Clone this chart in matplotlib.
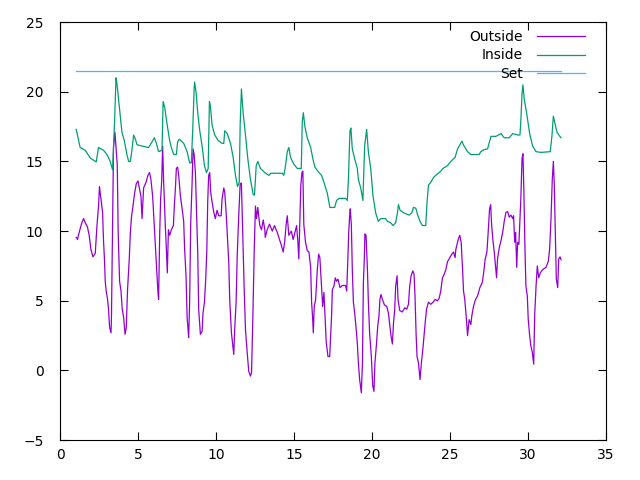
import matplotlib
matplotlib.use("Agg")
import matplotlib.pyplot as plt

# temperature log
inside_x = [1.03, 1.28, 1.61, 1.93, 2.31, 2.46, 2.78, 3.00, 3.21, 3.36, 3.49, 3.58, 3.64, 3.74, 3.85, 3.96,
            4.11, 4.28, 4.39, 4.50, 4.60, 4.71, 4.82, 4.93, 5.25, 5.67, 5.89, 6.04, 6.17, 6.31, 6.53, 6.60,
            6.70, 6.85, 7.02, 7.13, 7.28, 7.45, 7.53, 7.64, 7.92, 8.14, 8.30, 8.41, 8.50, 8.59, 8.62, 8.71,
            8.82, 8.95, 9.10, 9.25, 9.38, 9.49, 9.57, 9.63, 9.74, 9.91, 10.13, 10.38, 10.49, 10.55, 10.71,
            10.92, 11.09, 11.24, 11.37, 11.48, 11.54, 11.62, 11.73, 11.88, 12.03, 12.20, 12.38, 12.46, 12.57,
            12.67, 12.84, 13.12, 13.38, 13.49, 14.24, 14.34, 14.45, 14.56, 14.66, 14.77, 14.98, 15.20,
            15.46, 15.52, 15.59, 15.69, 15.84, 16.06, 16.20, 16.33, 16.59, 16.76, 16.97, 17.13, 17.29,
            17.60, 17.72, 17.87, 18.30, 18.41, 18.48, 18.58, 18.64, 18.73, 18.88, 19.05, 19.12, 19.27,
            19.41, 19.52, 19.65, 19.76, 19.91, 20.06, 20.23, 20.40, 20.55, 20.87, 20.98, 21.19, 21.34,
            21.51, 21.62, 21.69, 21.79, 22.05, 22.37, 22.54, 22.65, 22.80, 22.91, 23.07, 23.23, 23.44,
            23.51, 23.61, 23.76, 23.97, 24.19, 24.40, 24.55, 24.83, 25.05, 25.32, 25.48, 25.75, 25.90,
            26.12, 26.33, 26.86, 26.97, 27.18, 27.40, 27.62, 27.94, 28.26, 28.47, 28.79, 29.01, 29.33,
            29.48, 29.54, 29.61, 29.67, 29.75, 29.93, 30.10, 30.29, 30.51, 30.83, 31.42, 31.53, 31.62,
            31.73, 31.85, 32.00, 32.11]
inside_y = [17.3, 16.0, 15.8, 15.25, 14.96, 16.0, 15.8, 15.5, 15.0, 14.4, 17.9, 21.0, 20.6, 19.5, 18.3, 17.1,
            16.5, 15.5, 15.0, 15.0, 15.8, 16.9, 16.6, 16.2, 16.1, 16.0, 16.4, 16.7, 16.3, 15.7, 15.8, 19.3,
            18.9, 17.7, 16.5, 16.0, 15.5, 15.5, 16.4, 16.6, 16.3, 15.7, 14.9, 14.9, 17.3, 20.2, 20.7, 20.0,
            18.5, 17.2, 16.1, 14.7, 14.2, 14.5, 19.3, 19.0, 17.6, 16.9, 16.5, 16.3, 16.3, 17.2, 17.0,
            16.3, 15.3, 14.0, 13.2, 13.5, 17.6, 20.2, 18.5, 16.9, 15.2, 13.7, 12.6, 12.6, 14.7,
            15.0, 14.5, 14.2, 14.0, 14.15, 14.15, 14.0, 14.7, 15.7, 16.0, 15.3, 14.8, 14.5,
            14.5, 17.8, 18.5, 17.5, 16.7, 16.0, 15.2, 14.6, 14.2, 14.0, 13.3, 12.7, 11.7,
            11.7, 12.2, 12.35, 12.35, 12.2, 13.7, 17.2, 17.4, 15.9, 15.2, 14.5, 13.7, 13.1,
            12.2, 16.1, 17.3, 15.7, 14.5, 12.5, 11.3, 10.7, 10.9, 10.9, 10.7, 10.6, 10.4,
            10.6, 11.3, 11.9, 11.5, 11.3, 11.15, 11.3, 11.7, 11.65, 11.2, 10.7, 10.4, 10.4,
            11.9, 13.3, 13.5, 13.9, 14.1, 14.3, 14.5, 14.7, 15.0, 15.3, 15.9, 16.45, 16.1,
            15.7, 15.5, 15.5, 15.7, 15.85, 15.9, 16.8, 16.8, 17.0, 16.7, 16.7, 17.0, 16.9,
            16.9, 18.05, 19.85, 20.5, 19.5, 18.3, 17.0, 16.1, 15.7, 15.65, 15.7, 16.85, 18.25,
            17.7, 17.1, 16.85, 16.7]

outside_x = [1.03, 1.11, 1.24, 1.39, 1.50, 1.61, 1.75, 1.86, 1.97, 2.10, 2.25, 2.36, 2.46, 2.52, 2.63, 2.72,
             2.78, 2.84, 2.89, 2.95, 3.04, 3.10, 3.17, 3.26, 3.29, 3.36, 3.42, 3.51, 3.60, 3.66, 3.72, 3.81,
             3.90, 3.98, 4.07, 4.16, 4.24, 4.32, 4.43, 4.50, 4.58, 4.67, 4.77, 4.88, 4.99, 5.09, 5.18, 5.25,
             5.35, 5.50, 5.63, 5.73, 5.82, 5.93, 6.04, 6.15, 6.21, 6.27, 6.31, 6.38, 6.44, 6.51, 6.57, 6.63,
             6.74, 6.81, 6.87, 6.94, 7.02, 7.13, 7.26, 7.32, 7.39, 7.45, 7.53, 7.60, 7.71, 7.82, 7.92, 7.98,
             8.07, 8.14, 8.24, 8.30, 8.37, 8.46, 8.52, 8.59, 8.67, 8.75, 8.82, 8.88, 8.99, 9.10, 9.16, 9.25,
             9.33, 9.40, 9.46, 9.52, 9.59, 9.65, 9.74, 9.85, 9.95, 10.06, 10.17, 10.32, 10.38, 10.49, 10.55,
             10.64, 10.72, 10.81, 10.87, 10.98, 11.07, 11.13, 11.19, 11.28, 11.35, 11.43, 11.54, 11.62,
             11.71, 11.80, 11.88, 11.99, 12.09, 12.20, 12.27, 12.35, 12.44, 12.52, 12.59, 12.67, 12.80,
             12.91, 13.02, 13.12, 13.15, 13.27, 13.42, 13.60, 13.74, 13.92, 14.06, 14.19, 14.30, 14.39,
             14.49, 14.56, 14.66, 14.82, 14.94, 15.05, 15.16, 15.24, 15.30, 15.37, 15.43, 15.50, 15.56,
             15.62, 15.73, 15.84, 15.95, 16.06, 16.12, 16.18, 16.23, 16.29, 16.38, 16.49, 16.57, 16.65,
             16.74, 16.83, 16.91, 16.97, 17.06, 17.17, 17.28, 17.34, 17.40, 17.45, 17.55, 17.64, 17.72,
             17.81, 17.94, 18.09, 18.30, 18.37, 18.43, 18.50, 18.56, 18.60, 18.67, 18.73, 18.80, 18.88,
             18.96, 19.05, 19.12, 19.20, 19.31, 19.38, 19.44, 19.50, 19.54, 19.61, 19.70, 19.76, 19.84,
             19.95, 20.04, 20.12, 20.18, 20.27, 20.36, 20.44, 20.50, 20.57, 20.66, 20.79, 20.94, 21.04,
             21.13, 21.21, 21.30, 21.37, 21.45, 21.51, 21.60, 21.66, 21.77, 21.94, 22.09, 22.22, 22.33,
             22.41, 22.50, 22.61, 22.69, 22.75, 22.82, 22.88, 22.97, 23.07, 23.16, 23.25, 23.33, 23.40,
             23.49, 23.61, 23.76, 23.91, 24.04, 24.19, 24.30, 24.40, 24.51, 24.62, 24.73, 24.83, 24.98,
             25.11, 25.22, 25.32, 25.37, 25.52, 25.62, 25.71, 25.80, 25.86, 25.94, 26.03, 26.12, 26.22,
             26.33, 26.39, 26.50, 26.63, 26.76, 26.91, 27.06, 27.15, 27.25, 27.36, 27.44, 27.53, 27.60,
             27.66, 27.74, 27.83, 27.89, 27.98, 28.04, 28.15, 28.26, 28.37, 28.47, 28.58, 28.69, 28.79,
             28.90, 29.01, 29.07, 29.14, 29.20, 29.27, 29.33, 29.41, 29.48, 29.54, 29.61, 29.67, 29.73,
             29.80, 29.86, 29.95, 30.01, 30.10, 30.18, 30.27, 30.36, 30.42, 30.51, 30.59, 30.68, 30.78,
             30.94, 31.15, 31.30, 31.38, 31.47, 31.55, 31.62, 31.68, 31.75, 31.81, 31.90, 31.96, 32.05,
             32.11]
outside_y = [9.55, 9.4, 10.0, 10.6, 10.9, 10.6, 10.3, 9.7, 8.7, 8.15, 8.4, 10.4, 11.8, 13.2, 12.2, 11.35,
             9.3, 8.0, 6.4, 5.7, 5.1, 4.4, 3.1, 2.7, 3.9, 10.4, 16.0, 17.1, 15.7, 14.8, 9.9, 6.4,
             5.7, 4.4, 3.8, 2.6, 3.1, 5.8, 8.0, 9.9, 11.1, 11.8, 12.7, 13.4, 13.6, 13.0, 12.5, 10.9,
             13.1, 13.5, 14.0, 14.2, 13.7, 12.5, 10.3, 8.2, 6.8, 5.6, 5.1, 9.7, 12.3, 13.6, 16.1, 13.7,
             10.4, 8.7, 7.0, 10.1, 9.7, 10.1, 10.4, 11.8, 13.1, 14.5, 14.6, 14.0, 12.5, 11.6, 10.7, 8.7,
             6.8, 3.8, 2.35, 4.9, 10.6, 13.5, 15.9, 15.5, 14.2, 11.1, 8.5, 4.4, 2.6, 2.8, 4.15, 4.9,
             6.5, 8.5, 12.1, 14.0, 14.2, 12.8, 12.1, 11.35, 10.9, 11.5, 11.1, 11.1, 12.3, 13.1, 12.8,
             11.35, 9.7, 7.75, 5.1, 2.7, 1.75, 1.15, 2.95, 4.9, 8.2, 10.6, 13.4, 13.45,
             9.7, 5.8, 2.95, 1.3, -0.05, -0.4, -0.15, 3.65, 8.5, 11.8, 10.9, 11.7, 10.4,
             10.1, 10.8, 10.1, 9.55, 10.1, 10.5, 10.0, 10.4, 9.9, 9.4, 8.95, 8.5, 9.2,
             10.5, 11.1, 9.7, 10.0, 9.4, 9.9, 10.4, 9.2, 8.0, 10.9, 13.3, 14.2, 14.3,
             10.5, 9.2, 8.6, 8.5, 7.4, 4.9, 3.9, 2.7, 4.6, 5.1, 7.3, 8.35, 8.1,
             6.3, 4.6, 5.6, 4.15, 2.0, 1.0, 1.0, 2.5, 3.9, 5.8, 6.05, 6.65, 6.4,
             6.55, 5.95, 6.1, 6.1, 5.7, 7.5, 9.9, 11.1, 11.6, 10.4, 7.25, 4.9, 4.15,
             3.2, 2.0, 0.55, -0.65, -1.6, 0.55, 6.3, 8.0, 9.8, 9.7, 7.25, 4.9, 2.7,
             1.0, -1.1, -1.5, 0.55, 1.75, 3.2, 3.9, 5.1, 5.45, 5.1, 4.7, 4.6, 4.15,
             3.3, 2.5, 1.9, 3.4, 4.4, 6.05, 6.8, 5.1, 4.3, 4.2, 4.5, 4.4, 4.75,
             6.05, 6.8, 7.15, 6.9, 5.35, 2.6, 1.0, 0.55, -0.65, 0.55, 1.5, 2.5, 3.4,
             4.4, 4.9, 4.75, 4.9, 5.1, 5.0, 5.2, 5.7, 6.65, 6.9, 7.25, 7.8, 8.1,
             8.35, 8.5, 8.1, 8.7, 9.4, 9.7, 9.2, 7.25, 5.7, 5.1, 3.9, 2.5, 3.65,
             3.3, 3.9, 4.6, 5.1, 5.35, 5.95, 6.3, 7.0, 8.0, 8.5, 9.9, 11.6, 11.9,
             10.5, 9.4, 8.5, 7.75, 6.65, 8.0, 8.8, 9.3, 9.9, 10.7, 11.35, 11.4, 11.0,
             11.15, 10.9, 11.1, 9.2, 9.9, 7.4, 9.2, 9.05, 10.9, 12.5, 15.2, 15.55, 12.8,
             8.7, 6.05, 5.35, 3.65, 2.5, 1.75, 1.3, 0.45, 3.9, 6.05, 7.5, 6.65, 7.0,
             7.25, 7.4, 7.85, 8.7, 10.9, 13.7, 15.0, 13.3, 9.7, 6.55, 5.95, 8.0, 8.15,
             7.95]

set_x = [1.03, 32.11]
set_y = [21.5, 21.5]

fig = plt.figure(figsize=(6.4, 4.8), dpi=100)
ax = fig.add_axes([0.094, 0.083, 0.853, 0.871])

ax.plot(outside_x, outside_y, color='#9400D3', linewidth=0.9, label='Outside')
ax.plot(inside_x, inside_y, color='#009E73', linewidth=0.9, label='Inside')
ax.plot(set_x, set_y, color='#56B4E9', linewidth=0.9, label='Set')

ax.set_xlim(0, 35)
ax.set_ylim(-5, 25)
ax.set_xticks(range(0, 36, 5))
ax.set_yticks(range(-5, 26, 5))
ax.tick_params(direction='in', length=6, width=0.8, top=True, right=True,
               labelsize=10, colors='black')
ax.tick_params(axis='y', pad=12)
ax.tick_params(axis='x', pad=6)
for s in ax.spines.values():
    s.set_linewidth(0.8)

ax.legend(loc='upper right', bbox_to_anchor=(0.962, 0.982), markerfirst=False,
          frameon=False, borderpad=0, borderaxespad=0, handlelength=3.5,
          handletextpad=1.0, labelspacing=0.35, fontsize=10)

fig.savefig('out.png', dpi=100)
